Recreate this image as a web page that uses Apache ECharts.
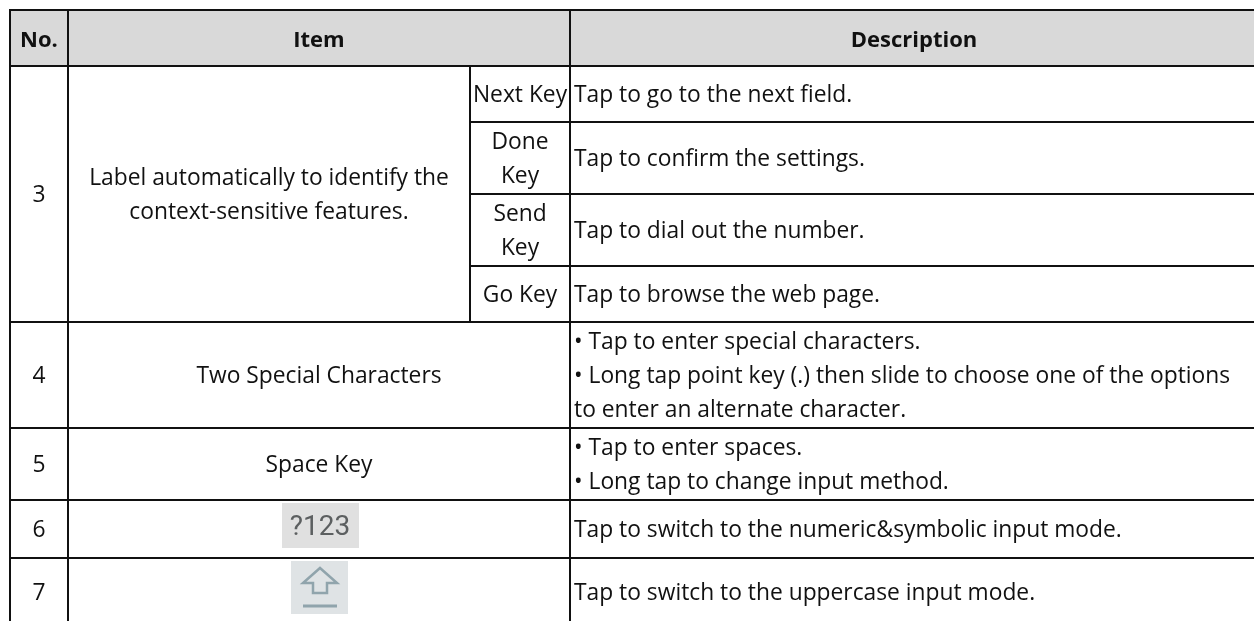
<!DOCTYPE html>
<html>
<head>
<meta charset="utf-8">
<title>Keyboard items</title>
<script src="https://cdn.jsdelivr.net/npm/echarts@6/dist/echarts.min.js"></script>
<style>
    html, body { margin: 0; padding: 0; background: #fff; }
    #main { width: 1254px; height: 621px; }
</style>
</head>
<body>
<div id="main"></div>
<script>
// table text
const headers = ['No.', 'Item', 'Description'];
const numbers = ['3', '4', '5', '6', '7'];
const itemLabels = ['Label automatically to identify the\ncontext-sensitive features.', 'Two Special Characters', 'Space Key', '', ''];
const keyLabels = ['Next Key', 'Done\nKey', 'Send\nKey', 'Go Key'];
const keyDescriptions = [
    'Tap to go to the next field.',
    'Tap to confirm the settings.',
    'Tap to dial out the number.',
    'Tap to browse the web page.'
];
const otherDescriptions = [
    '• Tap to enter special characters.\n• Long tap point key (.) then slide to choose one of the options\nto enter an alternate character.',
    '• Tap to enter spaces.\n• Long tap to change input method.',
    'Tap to switch to the numeric&symbolic input mode.',
    'Tap to switch to the uppercase input mode.'
];
const numericKeyLabel = '?123';

// grid lines, the last ones run off the page because the table is cut there
const columnEdges = [10, 68, 470, 570, 1258];
const rowEdges = [10, 66, 122, 194, 266, 322, 428, 500, 558, 626];

const FONT = '"Open Sans", "Noto Sans", sans-serif';
const FONT_SIZE = 22.8;
const HEAD_FONT_SIZE = 22;
const LINE_HEIGHT = 34;

function cell(c0, c1, r0, r1, text, opts) {
    return Object.assign({ c0, c1, r0, r1, text }, opts);
}

let cells = [
    cell(0, 1, 0, 1, headers[0], { head: true }),
    cell(1, 3, 0, 1, headers[1], { head: true }),
    cell(3, 4, 0, 1, headers[2], { head: true }),
    cell(0, 1, 1, 5, numbers[0]),
    cell(1, 2, 1, 5, itemLabels[0])
];
keyLabels.forEach((label, i) => {
    cells.push(cell(2, 3, i + 1, i + 2, label));
    cells.push(cell(3, 4, i + 1, i + 2, keyDescriptions[i], { left: true }));
});
otherDescriptions.forEach((text, i) => {
    cells.push(cell(0, 1, i + 5, i + 6, numbers[i + 1]));
    cells.push(cell(1, 3, i + 5, i + 6, itemLabels[i + 1]));
    cells.push(cell(3, 4, i + 5, i + 6, text, { left: true }));
});

function renderCell(params, api) {
    const item = cells[params.dataIndex];
    const p0 = api.coord([columnEdges[item.c0], rowEdges[item.r0]]);
    const p1 = api.coord([columnEdges[item.c1], rowEdges[item.r1]]);
    return {
        type: 'group',
        children: [
            {
                type: 'rect',
                shape: { x: p0[0], y: p0[1], width: p1[0] - p0[0], height: p1[1] - p0[1] },
                style: { fill: item.head ? '#d9d9d9' : '#fff', stroke: '#111', lineWidth: 2 }
            },
            {
                type: 'text',
                z2: 10,
                style: {
                    text: item.text,
                    x: item.left ? p0[0] + 4 : (p0[0] + p1[0]) / 2,
                    y: (p0[1] + p1[1]) / 2 + (item.head ? 3 : 2),
                    align: item.left ? 'left' : 'center',
                    verticalAlign: 'middle',
                    fontFamily: FONT,
                    fontSize: item.head ? HEAD_FONT_SIZE : FONT_SIZE,
                    fontWeight: item.head ? 700 : 400,
                    lineHeight: LINE_HEIGHT,
                    fill: '#111'
                }
            }
        ]
    };
}

// the two key pictures in the Item column
function renderKeys(params, api) {
    const centre = api.coord([api.value(0), api.value(1)]);
    const x = centre[0];
    const y = centre[1];
    if (params.dataIndex === 0) {
        return {
            type: 'group',
            children: [
                { type: 'rect', shape: { x: x - 38, y: y - 22, width: 77, height: 45 }, style: { fill: '#e0e0e0' } },
                {
                    type: 'text',
                    style: {
                        text: numericKeyLabel, x: x, y: y + 3, align: 'center', verticalAlign: 'middle',
                        fontFamily: 'Roboto', fontSize: 28, fill: '#5c5f60'
                    }
                }
            ]
        };
    }
    return {
        type: 'group',
        children: [
            { type: 'rect', shape: { x: x - 29, y: y - 27, width: 57, height: 53 }, style: { fill: '#dfe3e5' } },
            {
                type: 'polygon',
                shape: { points: [[x, y - 20], [x + 17, y - 5], [x + 7, y - 5], [x + 7, y + 5], [x - 7, y + 5], [x - 7, y - 5], [x - 17, y - 5]] },
                style: { fill: 'none', stroke: '#90a4ac', lineWidth: 2.5 }
            },
            {
                type: 'line',
                shape: { x1: x - 17, y1: y + 18, x2: x + 17, y2: y + 18 },
                style: { stroke: '#90a4ac', lineWidth: 3 }
            }
        ]
    };
}

const myChart = echarts.init(document.getElementById('main'), null, { renderer: 'canvas' });
myChart.setOption({
    animation: false,
    backgroundColor: '#fff',
    grid: { left: 0, right: 0, top: 0, bottom: 0 },
    xAxis: { type: 'value', min: 0, max: 1254, show: false },
    yAxis: { type: 'value', min: 0, max: 621, inverse: true, show: false },
    series: [
        {
            type: 'custom',
            coordinateSystem: 'cartesian2d',
            clip: false,
            silent: true,
            renderItem: renderCell,
            data: cells.map((c) => [columnEdges[c.c0], rowEdges[c.r0]])
        },
        {
            type: 'custom',
            coordinateSystem: 'cartesian2d',
            clip: false,
            silent: true,
            z: 5,
            renderItem: renderKeys,
            data: [[320, 525], [320, 588]]
        }
    ]
});
</script>
</body>
</html>
